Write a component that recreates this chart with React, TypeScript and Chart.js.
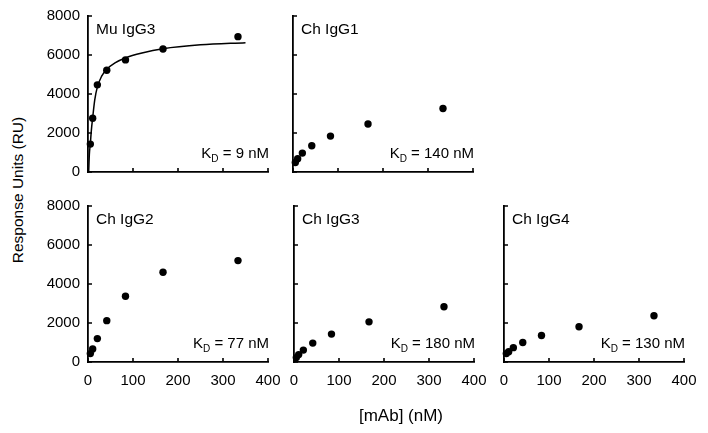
import React, { useEffect, useRef } from "react";
import { Chart, registerables } from "chart.js";

Chart.register(...registerables);

// ---- data ----
const concentrations = [5.2, 10.4, 20.8, 41.7, 83.3, 166.7, 333.3];
const muIgG3 = [1430, 2760, 4470, 5220, 5750, 6310, 6940];
const chIgG1 = [490, 680, 970, 1350, 1840, 2460, 3260];
const chIgG2 = [430, 670, 1200, 2120, 3370, 4600, 5200];
const chIgG3 = [225, 380, 610, 970, 1430, 2060, 2830];
const chIgG4 = [430, 530, 735, 1000, 1360, 1810, 2370];
const fitX = [1.5, 3, 5.2, 7.5, 10.4, 15, 20.7, 30, 41.6, 60, 83, 120, 166.7, 250, 350];
const fitY = [0, 900, 1450, 2150, 2780, 3700, 4350, 4900, 5270, 5600, 5850, 6100, 6320, 6520, 6630];
const xTicks = [0, 100, 200, 300, 400];
const yTicks = [0, 2000, 4000, 6000, 8000];
const panelNames = ["Mu IgG3", "Ch IgG1", "Ch IgG2", "Ch IgG3", "Ch IgG4"];
const kdValues = ["9", "140", "77", "180", "130"];

const FONT = '"Liberation Sans", Arial, sans-serif';

type PanelDef = {
  name: string;
  kd: string;
  values: number[];
  fit: boolean;
  left: number;
  top: number;
  yLabels: boolean;
  xLabels: boolean;
};

const PW = 180; // plot width
const PH = 156; // plot height
const YW = 60; // y axis box width
const XH = 38; // x axis box height
const PT = 22; // top padding
const PR = 24; // right padding

const panels: PanelDef[] = [
  { name: panelNames[0], kd: kdValues[0], values: muIgG3, fit: true, left: 88, top: 16, yLabels: true, xLabels: false },
  { name: panelNames[1], kd: kdValues[1], values: chIgG1, fit: false, left: 293, top: 16, yLabels: false, xLabels: false },
  { name: panelNames[2], kd: kdValues[2], values: chIgG2, fit: false, left: 88, top: 206, yLabels: true, xLabels: true },
  { name: panelNames[3], kd: kdValues[3], values: chIgG3, fit: false, left: 294, top: 206, yLabels: false, xLabels: true },
  { name: panelNames[4], kd: kdValues[4], values: chIgG4, fit: false, left: 504, top: 206, yLabels: false, xLabels: true },
];

function Panel({ p }: { p: PanelDef }) {
  const ref = useRef<HTMLCanvasElement | null>(null);
  useEffect(() => {
    const canvas = ref.current;
    if (!canvas) return;

    const innerTicks = {
      id: "innerTicks",
      afterDraw(chart: any) {
        const { ctx, chartArea } = chart;
        const xs = chart.scales.x;
        const ys = chart.scales.y;
        ctx.save();
        ctx.strokeStyle = "#000";
        ctx.lineWidth = 1.6;
        ctx.beginPath();
        xs.ticks.forEach((t: any) => {
          const x = xs.getPixelForValue(t.value);
          ctx.moveTo(x, chartArea.bottom);
          ctx.lineTo(x, chartArea.bottom - 4);
        });
        ys.ticks.forEach((t: any) => {
          const y = ys.getPixelForValue(t.value);
          ctx.moveTo(chartArea.left, y);
          ctx.lineTo(chartArea.left + 4, y);
        });
        ctx.stroke();

        // panel texts
        ctx.fillStyle = "#000";
        ctx.textAlign = "left";
        ctx.textBaseline = "alphabetic";
        const big = `15.5px ${FONT}`;
        const kdFont = `15px ${FONT}`;
        const small = `10px ${FONT}`;
        ctx.font = big;
        ctx.fillText(p.name, chartArea.left + 8, chartArea.top + 17.5);

        const rest = ` = ${p.kd} nM`;
        ctx.font = kdFont;
        const wRest = ctx.measureText(rest).width;
        const wK = ctx.measureText("K").width;
        ctx.font = small;
        const wD = ctx.measureText("D").width;
        const base = chartArea.bottom - 14;
        let x = chartArea.right + 1 - wRest - wD - wK;
        ctx.font = kdFont;
        ctx.fillText("K", x, base);
        x += wK;
        ctx.font = small;
        ctx.fillText("D", x, base + 3.5);
        x += wD;
        ctx.font = kdFont;
        ctx.fillText(rest, x, base);
        ctx.restore();
      },
    };

    const datasets: any[] = [
      {
        label: p.name,
        data: concentrations.map((c, i) => ({ x: c, y: p.values[i] })),
        pointRadius: 3.7,
        pointBackgroundColor: "#000",
        pointBorderWidth: 0,
        showLine: false,
        clip: false,
      },
    ];
    if (p.fit) {
      datasets.push({
        label: "fit",
        data: fitX.map((x, i) => ({ x, y: fitY[i] })),
        showLine: true,
        pointRadius: 0,
        borderColor: "#000",
        borderWidth: 1.5,
        cubicInterpolationMode: "monotone",
        fill: false,
        clip: false,
      });
    }

    const tickFont = { family: FONT, size: 15 };
    const chart = new Chart(canvas, {
      type: "scatter",
      data: { datasets },
      options: {
        responsive: false,
        animation: false,
        devicePixelRatio: 1,
        layout: { padding: { top: PT, right: PR, left: 0, bottom: 0 } },
        plugins: { legend: { display: false }, tooltip: { enabled: false } },
        scales: {
          x: {
            type: "linear",
            min: 0,
            max: 400,
            afterBuildTicks: (s: any) => {
              s.ticks = xTicks.map((v) => ({ value: v }));
            },
            ticks: {
              display: p.xLabels,
              color: "#000",
              font: tickFont,
              padding: 9.5,
              maxRotation: 0,
              callback: (v: any) => String(v),
            },
            grid: { display: false, drawTicks: false },
            border: { display: true, color: "#000", width: 1.8 },
            afterFit: (s: any) => {
              s.height = XH;
            },
          },
          y: {
            type: "linear",
            min: 0,
            max: 8000,
            afterBuildTicks: (s: any) => {
              s.ticks = yTicks.map((v) => ({ value: v }));
            },
            ticks: {
              display: p.yLabels,
              color: "#000",
              font: tickFont,
              padding: 8,
              callback: (v: any) => String(v),
            },
            grid: { display: false, drawTicks: false },
            border: { display: true, color: "#000", width: 1.8 },
            afterFit: (s: any) => {
              s.width = YW;
            },
          },
        },
      } as any,
      plugins: [innerTicks],
    });
    return () => chart.destroy();
  }, [p]);

  const w = YW + PW + PR;
  const h = PT + PH + XH;
  return (
    <canvas
      ref={ref}
      width={w}
      height={h}
      style={{ position: "absolute", left: p.left - YW, top: p.top - PT, width: w, height: h }}
    />
  );
}

export default function App() {
  return (
    <div style={{ position: "absolute", left: 0, top: 0, width: 708, height: 433, background: "#fff", overflow: "hidden" }}>
      {panels.map((p) => (
        <Panel key={p.name} p={p} />
      ))}
      <div
        style={{
          position: "absolute",
          left: 18,
          top: 190,
          transform: "translate(-50%, -50%) rotate(-90deg)",
          whiteSpace: "nowrap",
          fontFamily: FONT,
          fontSize: 15.5,
          color: "#000",
          lineHeight: 1,
        }}
      >
        Response Units (RU)
      </div>
      <div
        style={{
          position: "absolute",
          left: 401,
          top: 415,
          transform: "translate(-50%, -50%)",
          whiteSpace: "nowrap",
          fontFamily: FONT,
          fontSize: 17,
          color: "#000",
          lineHeight: 1,
        }}
      >
        [mAb] (nM)
      </div>
    </div>
  );
}
